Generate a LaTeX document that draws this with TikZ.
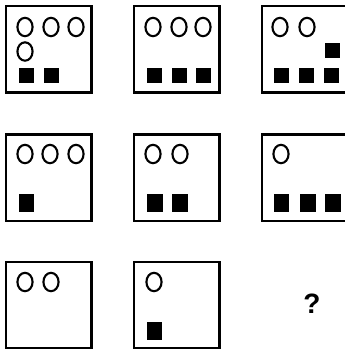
\documentclass[tikz,border=0pt]{standalone}
\usepackage{fontspec}
\setmainfont{Liberation Sans}
\begin{document}
\begin{tikzpicture}[x=1pt,y=-1pt,
  frame/.style={draw=black,line width=2.6pt},
  ring/.style={draw=black,line width=2.1pt,fill=white},
  blk/.style={fill=black}]
\useasboundingbox[fill=white] (0,0) rectangle (345,349);
\begin{scope}
\clip (0,0) rectangle (345,349);
% helper macros
\newcommand{\cellbox}[3]{\draw[frame] (#1,#2) rectangle ++(85.5,86.5) node[coordinate] (#3) {};}
\newcommand{\openbox}[3]{\draw[frame] (360,#2) -- (#1,#2) -- (#1,#2+86.5) -- (360,#2+86.5) node[coordinate] (#3) {};}
\newcommand{\ring}[2]{\draw[ring] (#1,#2) ellipse [x radius=7.6pt, y radius=9.2pt];}
\newcommand{\blk}[4]{\fill[blk] (#1,#2) rectangle ++(#3,#4);}
% Row 1
\cellbox{6}{6}{b11}
\ring{25}{27}\ring{51}{27}\ring{76}{27}\ring{25}{51.5}
\blk{19}{68}{14.5}{15}\blk{44}{68}{14.5}{15}
\cellbox{134}{6}{b12}
\ring{153}{27}\ring{179}{27}\ring{203}{27}
\blk{147}{68}{14.5}{15}\blk{172}{68}{14.5}{15}\blk{196}{68}{14.5}{15}
\openbox{262}{6}{b13}
\ring{280}{27}\ring{307}{27}
\blk{325}{43}{14.5}{14.5}
\blk{274}{68}{14.5}{15}\blk{299}{68}{14.5}{15}\blk{324}{68}{14.5}{15}
% Row 2
\cellbox{6}{134.5}{b21}
\ring{25}{154}\ring{50}{154}\ring{76}{154}
\blk{18.5}{194}{15.5}{18}
\cellbox{134}{134.5}{b22}
\ring{153}{154}\ring{180}{154}
\blk{147}{194}{15.5}{18}\blk{172}{194}{15.5}{18}
\openbox{262}{134.5}{b23}
\ring{281}{154}
\blk{273.5}{194}{15.5}{18}\blk{300}{194}{15.5}{18}\blk{325}{194}{15.5}{18}
% Row 3
\cellbox{6}{262}{b31}
\ring{25}{282}\ring{51}{282}
\cellbox{134}{262}{b32}
\ring{154}{282}
\blk{146.5}{322}{15.5}{18}
\end{scope}
\node[font=\bfseries\fontsize{28}{28}\selectfont,inner sep=0pt] (q) at (312,304) {?};
\end{tikzpicture}
\end{document}
